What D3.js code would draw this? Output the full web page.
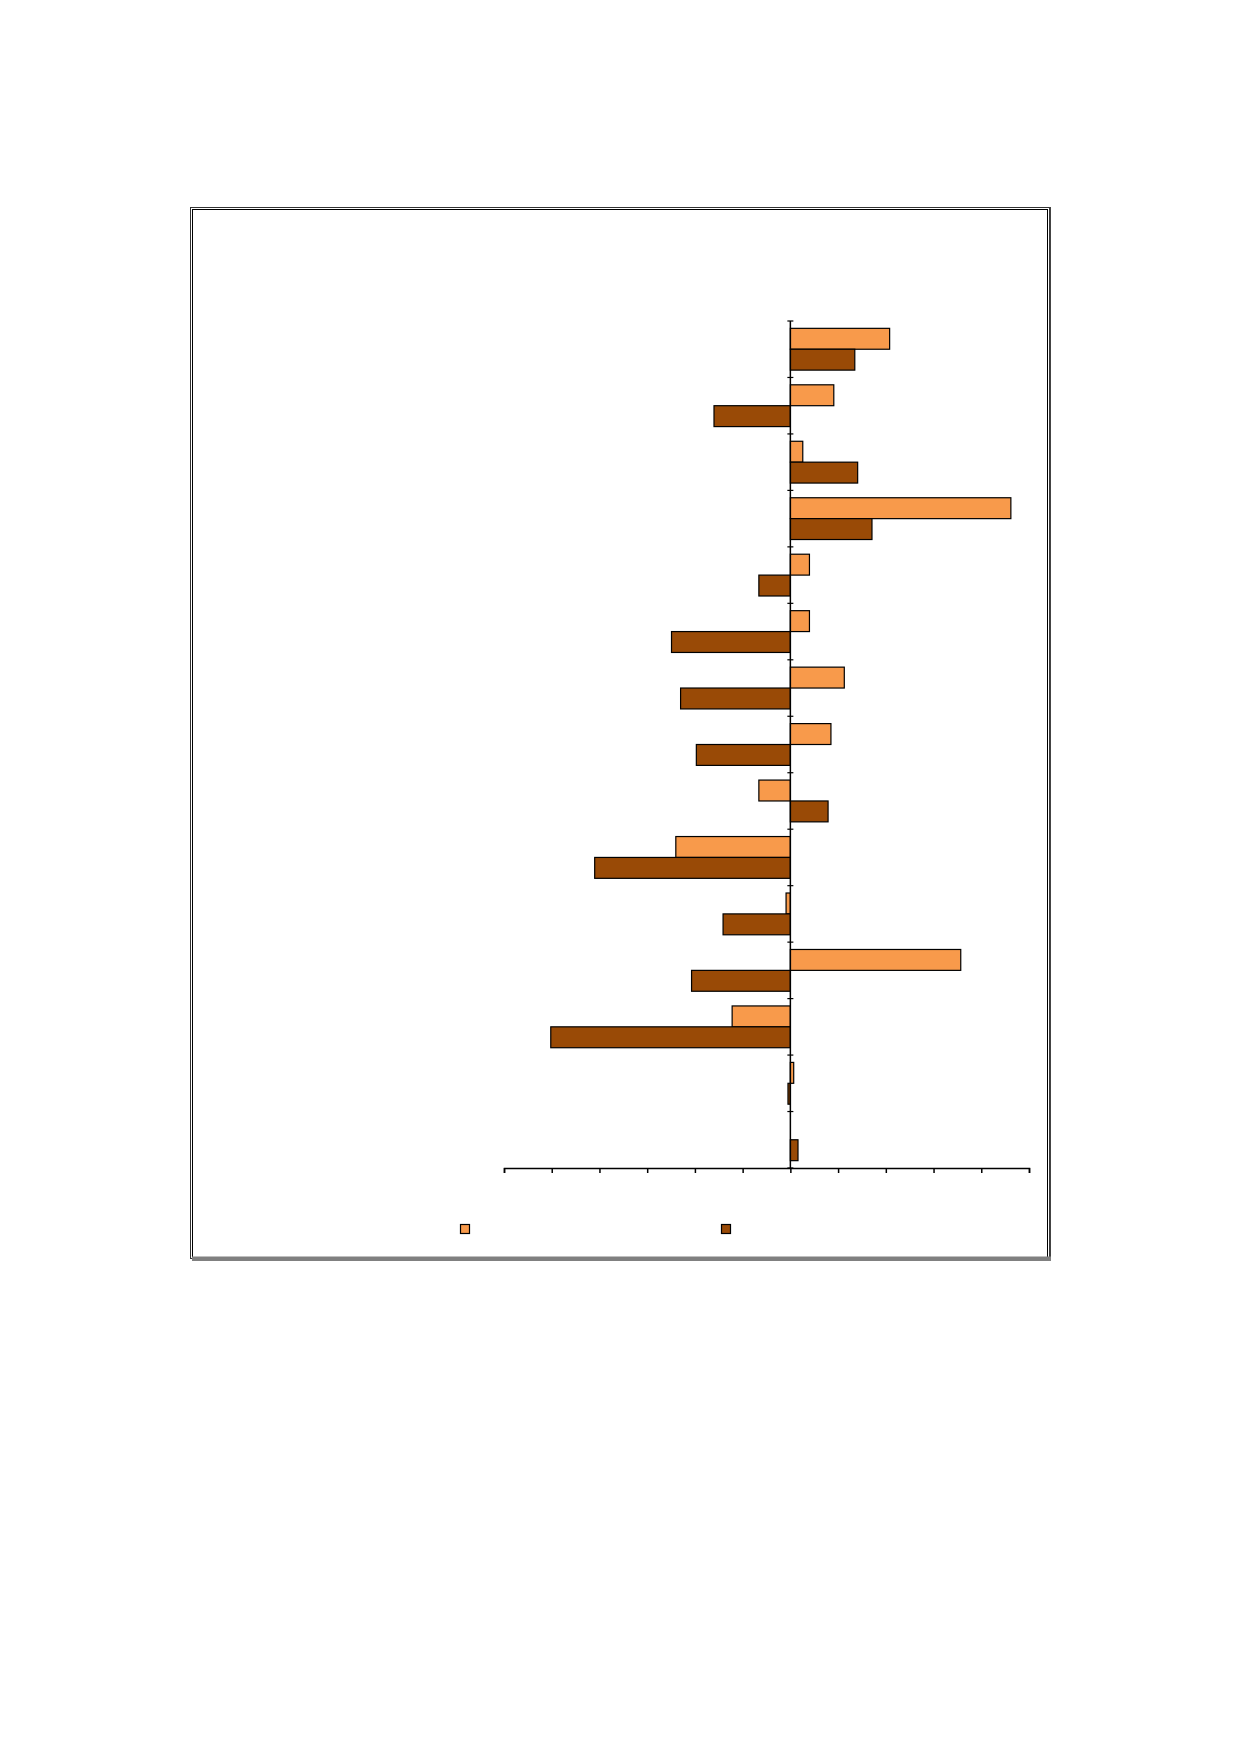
<!DOCTYPE html>
<html>
<head>
<meta charset="utf-8">
<script src="https://cdn.jsdelivr.net/npm/d3@7"></script>
<style>
  html, body { margin: 0; padding: 0; background: #fff; }
  svg { display: block; }
</style>
</head>
<body>
<div id="graph"></div>
<script>
// categories top to bottom (labels are not printed in the source)
var categories = ["c1", "c2", "c3", "c4", "c5", "c6", "c7", "c8", "c9", "c10", "c11", "c12", "c13", "c14", "c15"];
var seriesNames = ["Series A", "Series B"];
var seriesA = [2.08, 0.91, 0.26, 4.62, 0.40, 0.40, 1.13, 0.85, -0.66, -2.40, -0.09, 3.57, -1.22, 0.07, 0.00];
var seriesB = [1.35, -1.60, 1.41, 1.71, -0.66, -2.49, -2.30, -1.97, 0.79, -4.10, -1.41, -2.07, -5.02, -0.05, 0.16];
var xTicks = [-6, -5, -4, -3, -2, -1, 0, 1, 2, 3, 4, 5];

var colors = ["#f89a4b", "#994a06"];

var width = 1239, height = 1754;
var margin = { top: 321, left: 504, right: 210, bottom: 586 };
var chartWidth = width - margin.left - margin.right;
var chartHeight = height - margin.top - margin.bottom;

var svg = d3.select("#graph").append("svg")
  .attr("width", width)
  .attr("height", height);

// chart frame: double line, grey band along the bottom
var frame = svg.append("g").attr("class", "frame");
frame.append("rect")
  .attr("x", 190.5).attr("y", 207.5)
  .attr("width", 859).attr("height", 1051)
  .attr("fill", "none").attr("stroke", "#333").attr("stroke-width", 1);
frame.append("rect")
  .attr("x", 192.5).attr("y", 209.5)
  .attr("width", 855).attr("height", 1048)
  .attr("fill", "none").attr("stroke", "#000").attr("stroke-width", 1);
frame.append("rect")
  .attr("x", 1049.5).attr("y", 207)
  .attr("width", 1.5).attr("height", 1052)
  .attr("fill", "#444");
frame.append("rect")
  .attr("x", 192).attr("y", 1256.5)
  .attr("width", 859).attr("height", 4.5)
  .attr("fill", "#808080");

var xScale = d3.scaleLinear()
  .domain([xTicks[0], xTicks[xTicks.length - 1]])
  .range([0, chartWidth]);

var yScale = d3.scaleBand()
  .domain(categories)
  .range([0, chartHeight])
  .paddingInner(0.26)
  .paddingOuter(0.13);

var inner = d3.scaleBand()
  .domain(seriesNames)
  .range([0, yScale.bandwidth()]);

var chartLayer = svg.append("g")
  .attr("class", "chartLayer")
  .attr("transform", "translate(" + [margin.left, margin.top] + ")");

var data = categories.map(function(c, i) {
  return { who: c, values: [seriesA[i], seriesB[i]] };
});

var group = chartLayer.selectAll(".cat")
  .data(data)
  .enter().append("g")
  .attr("class", "cat")
  .attr("transform", function(d) {
    return "translate(0," + yScale(d.who) + ")";
  });

group.selectAll("rect")
  .data(function(d) {
    return d.values.map(function(v, j) { return { key: seriesNames[j], value: v, j: j }; });
  })
  .enter().append("rect")
  .filter(function(d) { return d.value !== 0; })
  .attr("x", function(d) { return xScale(Math.min(0, d.value)); })
  .attr("y", function(d) { return inner(d.key); })
  .attr("width", function(d) { return Math.abs(xScale(d.value) - xScale(0)); })
  .attr("height", inner.bandwidth())
  .attr("fill", function(d) { return colors[d.j]; })
  .attr("stroke", "#000")
  .attr("stroke-width", 1.2);

// value axis at the bottom, ticks only
var xAxis = d3.axisBottom(xScale)
  .tickValues(xTicks)
  .tickSize(5)
  .tickSizeOuter(5)
  .tickFormat("");

chartLayer.append("g")
  .attr("class", "axis x")
  .attr("transform", "translate(0," + chartHeight + ")")
  .call(xAxis)
  .call(function(g) {
    g.select(".domain").attr("stroke-width", 1.5);
    g.selectAll(".tick line").attr("stroke-width", 1.5);
  });

// category axis at zero, with cross ticks at band boundaries
var catAxis = chartLayer.append("g")
  .attr("class", "axis y")
  .attr("transform", "translate(" + xScale(0) + ",0)");

catAxis.append("line")
  .attr("y1", 0).attr("y2", chartHeight)
  .attr("stroke", "#000").attr("stroke-width", 1.5);

var bounds = d3.range(categories.length + 1);
catAxis.selectAll(".ctick")
  .data(bounds)
  .enter().append("line")
  .attr("class", "ctick")
  .attr("x1", -3).attr("x2", 3)
  .attr("y1", function(i) { return i * yScale.step(); })
  .attr("y2", function(i) { return i * yScale.step(); })
  .attr("stroke", "#000").attr("stroke-width", 1.2);

// legend swatches (text not printed in the source)
var legendX = d3.scalePoint().domain(seriesNames).range([460, 721]);
var legend = svg.append("g").attr("class", "legend");
legend.selectAll("rect")
  .data(seriesNames)
  .enter().append("rect")
  .attr("x", function(d) { return legendX(d) + 0.5; })
  .attr("y", 1224.5)
  .attr("width", 9)
  .attr("height", 9)
  .attr("fill", function(d, i) { return colors[i]; })
  .attr("stroke", "#000")
  .attr("stroke-width", 1.2);
</script>
</body>
</html>
